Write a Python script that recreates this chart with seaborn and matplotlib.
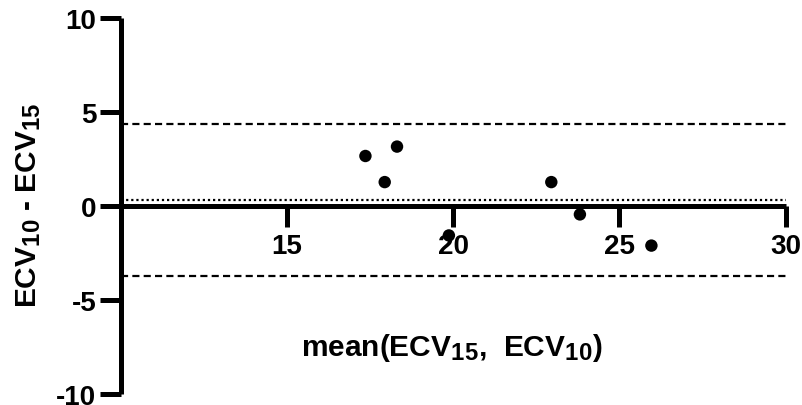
import matplotlib
matplotlib.use("Agg")
import matplotlib.pyplot as plt
import matplotlib._mathtext as _mt
import seaborn as sns
import pandas as pd

# Bland-Altman data: mean of the two ECV measurements vs. their difference
mean_ecv = [17.36, 17.94, 18.31, 19.87, 22.95, 23.81, 25.96]
diff_ecv = [2.67, 1.28, 3.17, -1.56, 1.28, -0.44, -2.10]

bias = 0.32
upper_loa = 4.37
lower_loa = -3.73

x_ticks = [15, 20, 25, 30]
y_ticks = [-10, -5, 0, 5, 10]

sns.set_style("ticks", {"axes.edgecolor": "black", "xtick.color": "black",
                        "ytick.color": "black", "text.color": "black",
                        "axes.labelcolor": "black"})
plt.rcParams["font.family"] = ["Liberation Sans", "DejaVu Sans"]
plt.rcParams["font.weight"] = "bold"
plt.rcParams["axes.unicode_minus"] = False
plt.rcParams["mathtext.fontset"] = "custom"
plt.rcParams["mathtext.rm"] = "Liberation Sans:bold"
plt.rcParams["mathtext.bf"] = "Liberation Sans:bold"
plt.rcParams["mathtext.it"] = "Liberation Sans:bold"
plt.rcParams["mathtext.default"] = "bf"
# slightly larger subscripts
_mt.SHRINK_FACTOR = 0.8

df = pd.DataFrame({"mean": mean_ecv, "diff": diff_ecv})

fig = plt.figure(figsize=(8.03, 4.06), dpi=100)
ax = fig.add_axes([0.1503, 0.0271, 0.8282, 0.9254])

ax.axhline(upper_loa, color="black", lw=1.6, ls=(0, (3.2, 1.9)), zorder=2)
ax.axhline(lower_loa, color="black", lw=1.6, ls=(0, (3.2, 1.9)), zorder=2)
ax.axhline(bias, color="black", lw=1.6, ls=(0, (1, 1.3)), zorder=2)

sns.scatterplot(data=df, x="mean", y="diff", ax=ax, color="black", s=80,
                edgecolor="none", zorder=5, clip_on=False, legend=False)

ax.set_xlim(10, 30)
ax.set_ylim(-10, 10)
ax.set_xticks(x_ticks)
ax.set_yticks(y_ticks)

ax.spines["top"].set_visible(False)
ax.spines["right"].set_visible(False)
ax.spines["bottom"].set_position(("data", 0))
for side in ("left", "bottom"):
    ax.spines[side].set_linewidth(3.6)
    ax.spines[side].set_capstyle("butt")
    ax.spines[side].set_color("black")

ax.tick_params(axis="both", width=3.6, length=15, labelsize=20, pad=2.5,
               colors="black")
ax.tick_params(axis="x", pad=4)
for lab in ax.get_xticklabels() + ax.get_yticklabels():
    lab.set_fontweight("bold")

ax.set_xlabel("")
ax.set_ylabel("")
fig.text(0.036, 0.495, r"ECV$_{10}$ - ECV$_{15}$", rotation=90, ha="center",
         va="center", fontsize=21.5, fontweight="bold")
fig.text(0.563, 0.143, r"mean(ECV$_{15}$,  ECV$_{10}$)", ha="center",
         va="center", fontsize=21.5, fontweight="bold")

fig.savefig("out.png", dpi=100, facecolor="white")
